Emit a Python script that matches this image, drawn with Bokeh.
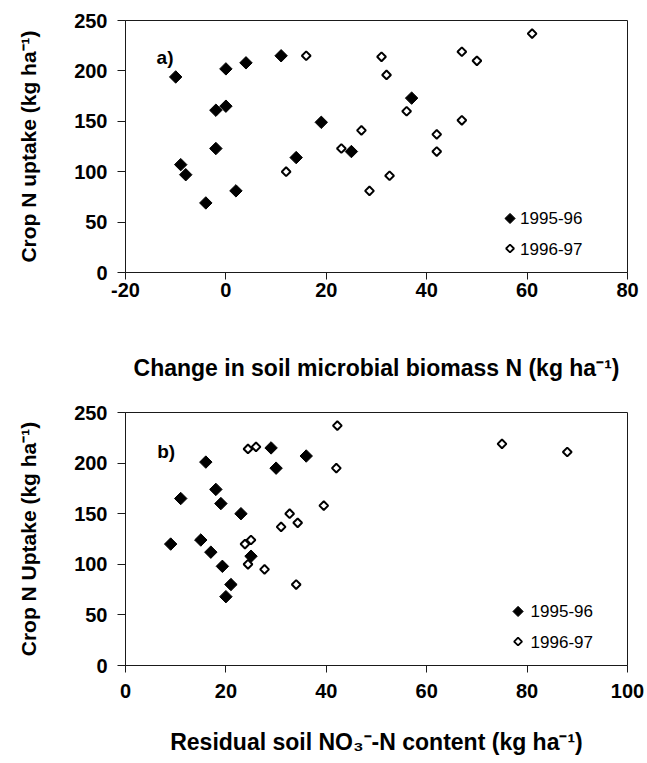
import math
from bokeh.plotting import figure
from bokeh.models import FixedTicker, Label, Range1d, PrintfTickFormatter
from bokeh.layouts import column
from bokeh.embed import file_html
from bokeh.resources import INLINE
from bokeh.core.properties import value

# ---- data ----
a_x_9596 = [-10, -9, -8, -4, -2, -2, 0, 0, 2, 4, 11, 14, 19, 25, 37]
a_y_9596 = [194, 107, 97, 69, 123, 161, 165, 202, 81, 208, 215, 114, 149, 120, 173]
a_x_9697 = [16, 12, 23, 27, 28.6, 31, 32, 36, 32.6, 42, 42, 47, 47, 50, 61]
a_y_9697 = [215, 100, 123, 141, 81, 214, 196, 160, 96, 137, 120, 151, 219, 210, 237]

b_x_9596 = [9, 11, 15, 16, 17, 18, 19, 19.3, 20, 21, 23, 25, 29, 30, 36]
b_y_9596 = [120, 165, 124, 201, 112, 174, 160, 98, 68, 80, 150, 108, 215, 195, 207]
b_x_9697 = [24.4, 26, 23.8, 25, 24.4, 27.7, 31, 32.7, 34.3, 34, 39.5, 42, 42.2, 75, 88]
b_y_9697 = [214, 216, 120, 124, 100, 95, 137, 150, 141, 80, 158, 195, 237, 219, 211]

series_labels = ["1995-96", "1996-97"]
a_xticks = [-20, 0, 20, 40, 60, 80]
b_xticks = [0, 20, 40, 60, 80, 100]
yticks = [0, 50, 100, 150, 200, 250]

FONT = "Liberation Sans"
INK = "#1a1a1a"


def panel(width, height, borders, xr, xticks, data, tag, tag_pos, xtitle, ytitle,
          leg_marker_x, leg_text_x, leg_rows, x_standoff, xtitle_standoff):
    bl, br, bt, bb = borders
    p = figure(width=width, height=height, output_backend="svg", toolbar_location=None,
               x_range=Range1d(*xr), y_range=Range1d(0, 250),
               min_border_left=bl, min_border_right=br, min_border_top=bt, min_border_bottom=bb)
    p.background_fill_color = "white"
    p.border_fill_color = "white"
    p.outline_line_color = INK
    p.outline_line_width = 1
    p.xgrid.visible = False
    p.ygrid.visible = False
    for ax, tk in ((p.xaxis[0], xticks), (p.yaxis[0], yticks)):
        ax.ticker = FixedTicker(ticks=tk)
        ax.formatter = PrintfTickFormatter(format="%d")
        ax.axis_line_color = INK
        ax.major_tick_line_color = INK
        ax.major_tick_in = 0
        ax.minor_tick_line_color = None
        ax.major_label_text_font = FONT
        ax.major_label_text_font_style = "bold"
        ax.major_label_text_font_size = "20px"
        ax.major_label_text_color = "black"
        ax.axis_label_text_font = FONT
        ax.axis_label_text_font_style = "bold"
        ax.axis_label_text_color = "black"
    p.xaxis[0].major_tick_out = 7
    p.xaxis[0].major_label_standoff = x_standoff
    p.yaxis[0].major_tick_out = 8
    p.yaxis[0].major_label_standoff = 10

    p.xaxis[0].axis_label = xtitle
    p.xaxis[0].axis_label_text_font_size = "23px"
    p.xaxis[0].axis_label_standoff = xtitle_standoff
    p.yaxis[0].axis_label = ytitle
    p.yaxis[0].axis_label_text_font_size = "21px"
    p.yaxis[0].axis_label_standoff = 31

    x1, y1, x2, y2 = data
    p.scatter(x1, y1, marker="square", angle=math.pi / 4, size=8.8,
              fill_color="black", line_color="black", line_width=1)
    p.scatter(x2, y2, marker="square", angle=math.pi / 4, size=6.2,
              fill_color="white", line_color="black", line_width=2)

    # legend (layout positions, drawn with the same marker styles)
    p.scatter([leg_marker_x], [leg_rows[0]], marker="square", angle=math.pi / 4, size=7.2,
              fill_color="black", line_color="black", line_width=1)
    p.scatter([leg_marker_x], [leg_rows[1]], marker="square", angle=math.pi / 4, size=5.6,
              fill_color="white", line_color="black", line_width=1.8)
    p.text([leg_text_x, leg_text_x], leg_rows, text=series_labels,
           text_font=value(FONT), text_font_size="17px", text_color="black",
           text_baseline="middle", text_align="left")

    p.add_layout(Label(x=tag_pos[0], y=tag_pos[1], text=tag, text_font=FONT,
                       text_font_style="bold", text_font_size="19px", text_color="black",
                       text_baseline="alphabetic", text_align="left"))
    return p


pa = panel(647, 398, (124, 19, 20, 126), (-20, 80), a_xticks,
           (a_x_9596, a_y_9596, a_x_9697, a_y_9697),
           "a)", (-13.8, 213),
           "Change in soil microbial biomass N (kg ha\u207b\u00b9)",
           "Crop N uptake (kg ha\u207b\u00b9)",
           56.6, 58.6, [53.6, 23.8], 3, 55)

pb = panel(647, 362, (125, 20, 14, 95), (0, 100), b_xticks,
           (b_x_9596, b_y_9596, b_x_9697, b_y_9697),
           "b)", (6.3, 211),
           "Residual soil NO\u2083\u207b-N content (kg ha\u207b\u00b9)",
           "Crop N Uptake (kg ha\u207b\u00b9)",
           78.2, 80.7, [53.4, 23.7], 11, 28)

layout = column(pa, pb)
open("out.html", "w").write(file_html(layout, INLINE))
